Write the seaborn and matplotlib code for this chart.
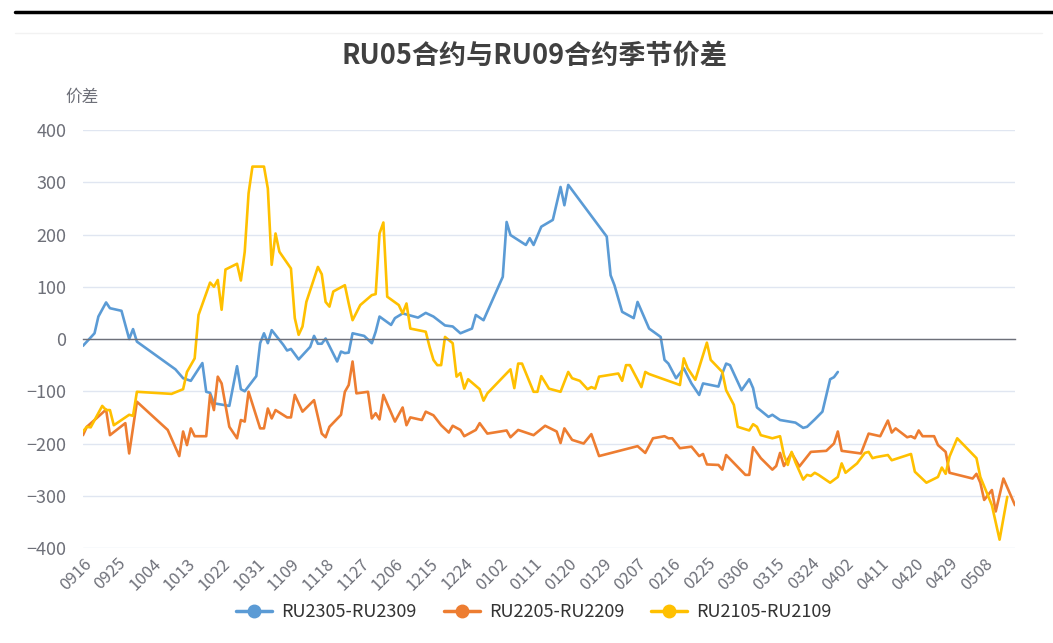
import pandas as pd
import matplotlib
matplotlib.use("Agg")
import matplotlib.pyplot as plt
from matplotlib.lines import Line2D
import seaborn as sns

# category axis: every calendar day from 09-16 to 05-16
categories = pd.date_range("2021-09-16", "2022-05-16").strftime("%m%d").tolist()

series_names = ["RU2305-RU2309", "RU2205-RU2209", "RU2105-RU2109"]
series_colors = ["#5B9BD5", "#ED7D31", "#FFC000"]

blue_dates = ["0916", "0919", "0920", "0922", "0923", "0926", "0928", "0929", "0930", "1010",
              "1012", "1014", "1017", "1018", "1019", "1020", "1024", "1026", "1027", "1028",
              "1031", "1101", "1102", "1103", "1104", "1107", "1108", "1109", "1111", "1114",
              "1115", "1116", "1117", "1118", "1121", "1122", "1123", "1124", "1125", "1128",
              "1130", "1201", "1202", "1205", "1206", "1208", "1212", "1214", "1216", "1219",
              "1221", "1223", "1226", "1227", "1229", "0103", "0104", "0105", "0109", "0110",
              "0111", "0113", "0116", "0118", "0119", "0120", "0130", "0131", "0201", "0203",
              "0206", "0207", "0210", "0213", "0214", "0215", "0217", "0219", "0221", "0223",
              "0224", "0228", "0301", "0302", "0303", "0306", "0308", "0309", "0310", "0313",
              "0314", "0316", "0320", "0322", "0323", "0325", "0327", "0329", "0330", "0331"]
blue_values = [-13, 11, 43, 70, 59, 54, 0, 19, -5, -58,
               -75, -80, -46, -101, -103, -123, -128, -52, -96, -100,
               -71, -8, 11, -8, 17, -11, -22, -19, -39, -15,
               6, -9, -9, 1, -43, -24, -27, -26, 11, 6,
               -8, 14, 43, 27, 40, 49, 41, 50, 43, 26,
               24, 11, 20, 46, 36, 119, 224, 199, 180, 193,
               180, 215, 228, 291, 256, 295, 196, 122, 103, 52,
               40, 71, 20, 4, -40, -47, -75, -56, -85, -107,
               -85, -91, -66, -47, -50, -98, -77, -94, -131, -149,
               -145, -155, -160, -170, -168, -154, -139, -77, -73, -63]

orange_dates = ["0916", "0917", "0919", "0922", "0923", "0927", "0928", "0930", "1008", "1011",
                "1012", "1013", "1014", "1015", "1018", "1019", "1020", "1021", "1022", "1024",
                "1026", "1027", "1028", "1029", "1101", "1102", "1103", "1104", "1105", "1108",
                "1109", "1110", "1112", "1115", "1117", "1118", "1119", "1122", "1123", "1124",
                "1125", "1126", "1129", "1130", "1201", "1202", "1203", "1206", "1208", "1209",
                "1210", "1213", "1214", "1216", "1218", "1220", "1221", "1223", "1224", "1227",
                "1228", "1230", "0104", "0105", "0107", "0111", "0114", "0117", "0118", "0119",
                "0121", "0124", "0126", "0128", "0207", "0209", "0211", "0214", "0215", "0216",
                "0218", "0221", "0223", "0224", "0225", "0228", "0301", "0302", "0307", "0308",
                "0309", "0311", "0314", "0315", "0316", "0317", "0319", "0321", "0324", "0328",
                "0330", "0331", "0401", "0406", "0408", "0411", "0413", "0414", "0415", "0418",
                "0419", "0420", "0421", "0422", "0425", "0426", "0428", "0429", "0505", "0506",
                "0507", "0508", "0510", "0511", "0513", "0516"]
orange_values = [-184, -168, -155, -135, -184, -161, -219, -120, -174, -224,
                 -177, -203, -171, -186, -186, -107, -136, -72, -85, -168,
                 -190, -155, -158, -101, -171, -171, -133, -152, -136, -150,
                 -150, -107, -139, -117, -181, -188, -168, -145, -101, -88,
                 -43, -104, -101, -152, -142, -154, -107, -158, -131, -165,
                 -150, -155, -139, -146, -165, -179, -166, -174, -186, -174,
                 -161, -181, -175, -188, -174, -184, -166, -177, -199, -171,
                 -193, -200, -182, -224, -205, -218, -190, -186, -190, -190,
                 -209, -206, -224, -220, -240, -241, -250, -222, -260, -260,
                 -207, -228, -250, -243, -218, -243, -218, -244, -216, -214,
                 -200, -177, -214, -219, -181, -186, -156, -179, -171, -188,
                 -186, -190, -175, -186, -186, -203, -216, -256, -267, -258,
                 -275, -308, -289, -330, -267, -318]

yellow_dates = ["0916", "0917", "0918", "0921", "0922", "0923", "0924", "0928", "0929", "0930",
                "1009", "1012", "1013", "1015", "1016", "1019", "1020", "1021", "1022", "1023",
                "1026", "1027", "1028", "1029", "1030", "1102", "1103", "1104", "1105", "1106",
                "1109", "1110", "1111", "1112", "1113", "1116", "1117", "1118", "1119", "1120",
                "1123", "1124", "1125", "1127", "1130", "1201", "1202", "1203", "1204", "1207",
                "1208", "1209", "1210", "1214", "1215", "1216", "1217", "1218", "1219", "1221",
                "1222", "1223", "1224", "1225", "1228", "1229", "1230", "0105", "0106", "0107",
                "0108", "0111", "0112", "0113", "0115", "0118", "0120", "0121", "0123", "0125",
                "0126", "0127", "0128", "0202", "0203", "0204", "0205", "0208", "0209", "0210",
                "0218", "0219", "0220", "0222", "0225", "0226", "0301", "0302", "0304", "0305",
                "0308", "0309", "0310", "0311", "0314", "0316", "0317", "0318", "0319", "0320",
                "0322", "0323", "0324", "0325", "0326", "0329", "0331", "0401", "0402", "0405",
                "0407", "0408", "0409", "0410", "0413", "0414", "0419", "0420", "0423", "0426",
                "0427", "0428", "0429", "0501", "0506", "0507", "0510", "0512", "0514"]
yellow_values = [-177, -168, -169, -128, -136, -136, -165, -145, -147, -101,
                 -105, -96, -63, -37, 46, 108, 100, 113, 56, 133,
                 144, 112, 167, 279, 330, 330, 288, 142, 202, 167,
                 135, 40, 8, 24, 71, 138, 124, 71, 62, 91,
                 103, 68, 36, 65, 84, 86, 202, 223, 81, 65,
                 49, 68, 20, 14, -15, -40, -50, -50, 4, -8,
                 -72, -65, -95, -77, -96, -118, -104, -58, -94, -47,
                 -47, -101, -101, -71, -95, -101, -63, -75, -80, -96,
                 -92, -95, -72, -66, -80, -50, -50, -92, -63, -67,
                 -88, -37, -56, -78, -7, -40, -63, -98, -126, -168,
                 -175, -163, -168, -184, -190, -186, -222, -241, -216, -236,
                 -269, -260, -262, -256, -260, -275, -264, -238, -256, -238,
                 -218, -216, -228, -226, -222, -232, -220, -254, -275, -264,
                 -246, -258, -225, -190, -228, -264, -318, -384, -302]

pos = {c: i for i, c in enumerate(categories)}
frames = []
for name, dates, vals in zip(series_names,
                             [blue_dates, orange_dates, yellow_dates],
                             [blue_values, orange_values, yellow_values]):
    frames.append(pd.DataFrame({"series": name,
                                "idx": [pos[d] for d in dates],
                                "value": vals}))
df = pd.concat(frames, ignore_index=True)

sns.set_style("white")
plt.rcParams["font.family"] = ["Noto Sans CJK SC", "DejaVu Sans"]

fig = plt.figure(figsize=(10.53, 6.43), dpi=100)
ax = fig.add_axes([0.0788, 0.1477, 0.9639 - 0.0788, 0.7978 - 0.1477])

sns.lineplot(data=df, x="idx", y="value", hue="series", hue_order=series_names,
             palette=series_colors, estimator=None, linewidth=1.9, legend=False, ax=ax)

axis_gray = "#6E7079"
ax.set_xlim(0, len(categories) - 1)
ax.set_ylim(-400, 400)
ax.set_yticks(range(-400, 401, 100))
ax.yaxis.grid(True, color="#E0E6F1", linewidth=1.0)
ax.xaxis.grid(False)
for s in ["top", "right", "left"]:
    ax.spines[s].set_visible(False)
ax.spines["bottom"].set_position(("data", 0))
ax.spines["bottom"].set_color(axis_gray)
ax.spines["bottom"].set_linewidth(1.0)
ax.set_xlabel("")
ax.set_ylabel("")

tick_idx = list(range(0, len(categories), 9))
ax.set_xticks(tick_idx)
ax.tick_params(axis="x", labelbottom=False, length=5, width=1, color=axis_gray, direction="out")
ax.tick_params(axis="y", length=0, labelsize=13, labelcolor=axis_gray, pad=12)

sec = ax.secondary_xaxis(0)
sec.set_xticks(tick_idx)
sec.set_xticklabels([categories[i] for i in tick_idx], rotation=45, ha="right",
                    rotation_mode="anchor", fontsize=12, color=axis_gray)
sec.tick_params(length=0, pad=5)
sec.spines["bottom"].set_visible(False)

fig.text(0.508, 0.914, "RU05合约与RU09合约季节价差", ha="center", va="center",
         fontsize=19.5, fontweight="bold", color="#404040")
fig.text(0.078, 0.849, "价差", ha="center", va="center", fontsize=12, color=axis_gray)

# frame decoration at the top of the screenshot
fig.add_artist(Line2D([0.014, 1.0], [0.981, 0.981], color="black", linewidth=2.5))
fig.add_artist(Line2D([0.014, 0.99], [0.948, 0.948], color="#F2F2F2", linewidth=1.0))

handles = [Line2D([0], [0], color=c, lw=2.5, marker="o", markersize=9) for c in series_colors]
fig.legend(handles, series_names, loc="center", bbox_to_anchor=(0.507, 0.048), ncol=3,
           frameon=False, fontsize=13, handlelength=2.0, columnspacing=1.5,
           handletextpad=0.5, labelcolor="#333333")

fig.savefig("out.png", dpi=100)
